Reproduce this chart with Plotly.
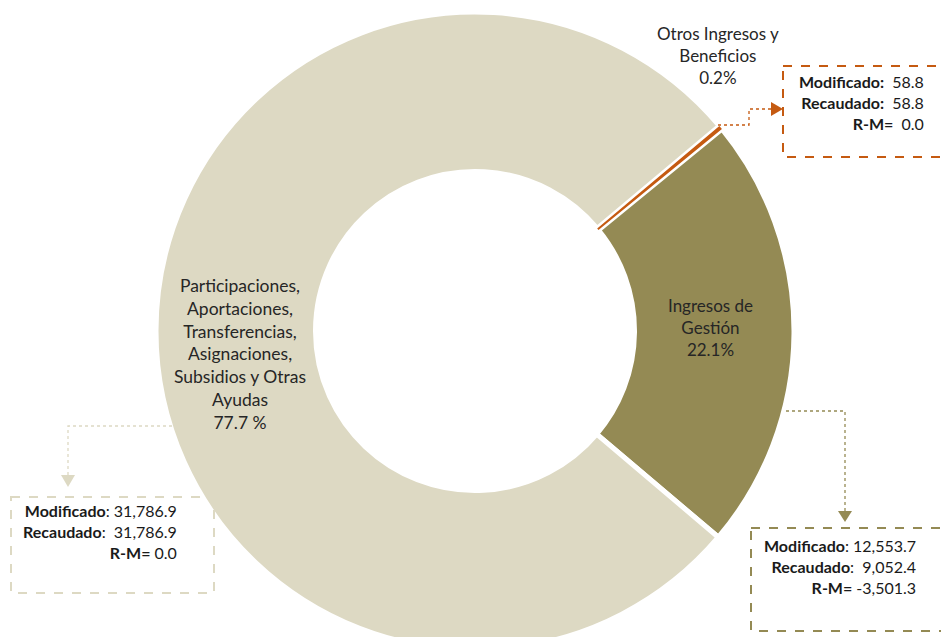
import plotly.graph_objects as go

# datos
categorias = ['Otros Ingresos y Beneficios', 'Ingresos de Gestión',
              'Participaciones, Aportaciones, Transferencias, Asignaciones, Subsidios y Otras Ayudas']
etiquetas = ['Otros Ingresos y<br>Beneficios', 'Ingresos de<br>Gestión',
             'Participaciones,<br>Aportaciones,<br>Transferencias,<br>Asignaciones,<br>Subsidios y Otras<br>Ayudas']
porcentaje = [0.2, 22.1, 77.7]
porcentajes_txt = ['0.2%', '22.1%', '77.7 %']
modificado = [58.8, 12553.7, 31786.9]
recaudado = [58.8, 9052.4, 31786.9]
colores = ['#C55A11', '#948A54', '#DDD9C3']

W, H = 941, 650
def X(p):
    return p / W
def Y(p):
    return 1 - p / H

def fmt(v):
    return f"{v:,.1f}"

NB = '\u00a0'
dominio = dict(x=[X(475 - 319), X(475 + 319)], y=[0, Y(12)])

fig = go.Figure()
fig.add_trace(go.Pie(
    labels=categorias,
    values=porcentaje,
    textinfo='none',
    hole=0.5,
    sort=False,
    direction='clockwise',
    rotation=50,
    marker=dict(colors=colores, line=dict(color='white', width=5)),
    domain=dominio,
    showlegend=False,
    hoverinfo='label+percent',
))
# la rebanada pequena se vuelve a dibujar encima para que no la tape el borde blanco
fig.add_trace(go.Pie(
    labels=categorias,
    values=porcentaje,
    textinfo='none',
    hole=0.5,
    sort=False,
    direction='clockwise',
    rotation=50,
    marker=dict(colors=[colores[0], 'rgba(0,0,0,0)', 'rgba(0,0,0,0)'], line=dict(width=0)),
    domain=dominio,
    showlegend=False,
    hoverinfo='skip',
))

# etiquetas de las rebanadas
pos_etiquetas = [(718, 56), (710, 327), (240, 354)]
tam_etiquetas = [17, 17, 17.5]
for i, (px, py) in enumerate(pos_etiquetas):
    fig.add_annotation(x=X(px), y=Y(py), xref='paper', yref='paper',
                       text=etiquetas[i] + '<br>' + porcentajes_txt[i], showarrow=False,
                       xanchor='center', yanchor='middle',
                       font=dict(family='Lato', size=tam_etiquetas[i], color='#262626'))

# cajas con Modificado / Recaudado / R-M
cajas = [
    # (x0, y0, x1, y1, x_texto, y_texto, indice)
    (783, 66, 960, 157, 926, 102, 0),
    (751, 528, 960, 631, 918, 566, 1),
    (11, 497, 214, 593, 179, 531, 2),
]
for x0, y0, x1, y1, xt, yt, i in cajas:
    fig.add_shape(type='rect', xref='paper', yref='paper',
                  x0=X(x0), y0=Y(y0), x1=X(x1), y1=Y(y1),
                  line=dict(color=colores[i], width=2, dash='dash'),
                  fillcolor='rgba(0,0,0,0)')
    rm = recaudado[i] - modificado[i]
    if i == 0:
        txt = (f"<b>Modificado:</b>{NB}{NB}{fmt(modificado[i])}<br>"
               f"<b>Recaudado:</b>{NB}{NB}{fmt(recaudado[i])}<br>"
               f"<b>R-M=</b>{NB}{NB}{fmt(rm)}")
    else:
        txt = (f"<b>Modificado</b>:{NB}{fmt(modificado[i])}<br>"
               f"<b>Recaudado</b>:{NB}{NB}{fmt(recaudado[i])}<br>"
               f"<b>R-M=</b>{NB}{fmt(rm)}")
    fig.add_annotation(x=X(xt), y=Y(yt), xref='paper', yref='paper',
                       text=txt, showarrow=False, align='right',
                       xanchor='right', yanchor='middle',
                       font=dict(family='Lato', size=16, color='#1a1a1a'))

# conectores punteados con punta de flecha
conectores = [
    ([(718, 125), (749, 125), (749, 109), (772, 109)], 0),
    ([(786, 411), (845, 411), (845, 512)], 1),
    ([(172, 426), (68, 426), (68, 476)], 2),
]
for pts, i in conectores:
    path = 'M ' + ' L '.join(f'{X(px)} {Y(py)}' for px, py in pts)
    fig.add_shape(type='path', xref='paper', yref='paper', path=path,
                  line=dict(color=colores[i], width=1.3, dash='dot'))

puntas = [
    ([(771, 102), (783, 109), (771, 116)], 0),
    ([(838, 511), (852, 511), (845, 522)], 1),
    ([(61, 475), (75, 475), (68, 487)], 2),
]
for pts, i in puntas:
    path = 'M ' + ' L '.join(f'{X(px)} {Y(py)}' for px, py in pts) + ' Z'
    fig.add_shape(type='path', xref='paper', yref='paper', path=path,
                  line=dict(color=colores[i], width=0), fillcolor=colores[i])

fig.update_layout(
    width=W, height=H,
    margin=dict(l=0, r=0, t=0, b=0),
    paper_bgcolor='white',
    plot_bgcolor='white',
    font=dict(family='Lato'),
)

fig.write_html("out.html", config={'displayModeBar': False},
               post_script="document.body.style.margin='0';document.body.style.overflow='hidden';")
